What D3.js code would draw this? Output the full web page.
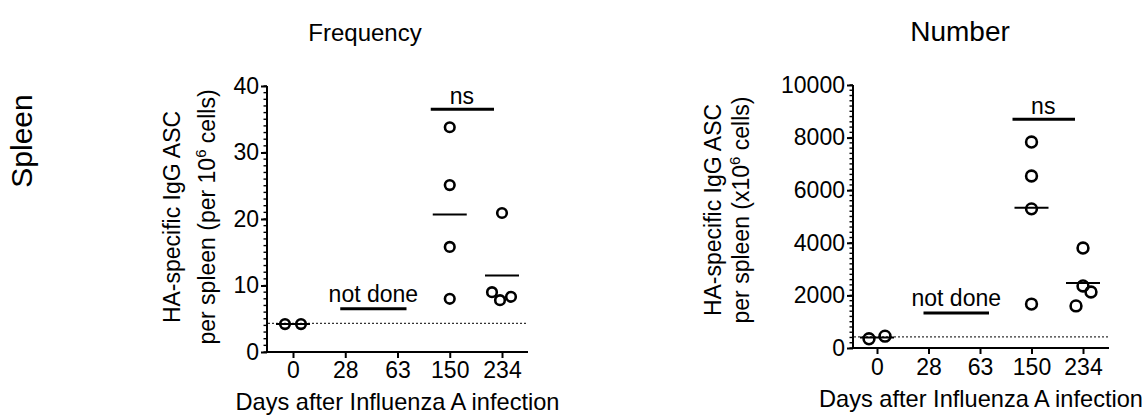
<!DOCTYPE html>
<html>
<head>
<meta charset="utf-8">
<script src="https://cdn.jsdelivr.net/npm/d3@7/dist/d3.min.js"></script>
<style>
  html, body { margin: 0; padding: 0; background: #fff; }
  svg { display: block; }
  text { font-family: "Liberation Sans", Arial, sans-serif; fill: #000; }
</style>
</head>
<body>
<svg id="chart" width="1148" height="415"></svg>
<script>
// ---------- DATA ----------
const days = ["0", "28", "63", "150", "234"];

// Frequency (per 10^6 cells)
const freqDay0   = [4.2, 4.2];
const freqDay150 = [33.8, 25.1, 15.8, 8.0];
const freqDay234 = [20.9, 9.0, 7.8, 8.3];
const freqLOD = 4.3;
const freqTicks = [0, 10, 20, 30, 40];

// Number (x10^6 cells)
const numDay0   = [350, 450];
const numDay150 = [7830, 6540, 5290, 1670];
const numDay234 = [3800, 2360, 2130, 1600];
const numLOD = 420;
const numTicks = [0, 2000, 4000, 6000, 8000, 10000];

// horizontal scatter offsets (px) for overlapping points
const jitterDay0 = [-8, 8];
const jitter150 = [0, 0, 0, 0];
const freqJitter234 = [0, -10, -2, 9];
const numJitter234 = [0, 0, 8, -7];

// ---------- DRAW ----------
const svg = d3.select("#chart");
const FONT = 23;

function panel(cfg) {
  const g = svg.append("g");
  const x = d3.scalePoint().domain(days).range(cfg.xRange);
  const y = d3.scaleLinear().domain(cfg.yDomain).range(cfg.yRange);
  const axisRight = cfg.xRange[1] + 26;

  // title
  g.append("text").attr("x", cfg.titleX).attr("y", 41)
    .attr("text-anchor", "middle").attr("font-size", cfg.titleSize).text(cfg.title);

  // minor ticks
  const minor = d3.range(cfg.yDomain[0], cfg.yDomain[1] + cfg.minorStep / 2, cfg.minorStep);
  g.append("g").selectAll("line").data(minor).join("line")
    .attr("x1", cfg.axisX - 3.5).attr("x2", cfg.axisX)
    .attr("y1", d => y(d)).attr("y2", d => y(d))
    .attr("stroke", "#000").attr("stroke-width", 1.4);

  // y axis
  const yAxis = d3.axisLeft(y).tickValues(cfg.yTicks).tickSize(6).tickPadding(2).tickFormat(d3.format("d"));
  const ya = g.append("g").attr("transform", `translate(${cfg.axisX},0)`).call(yAxis);
  ya.select(".domain").attr("stroke-width", 2).attr("d", `M0,${cfg.yRange[1]}V${cfg.yRange[0]}`);
  ya.selectAll(".tick line").attr("stroke-width", 2);
  ya.selectAll(".tick text").attr("font-size", FONT).attr("font-family", "Liberation Sans, Arial, sans-serif").attr("fill", "#000");

  // x axis
  const xAxis = d3.axisBottom(x).tickSize(6).tickPadding(4);
  const xa = g.append("g").attr("transform", `translate(0,${cfg.yRange[0]})`).call(xAxis);
  xa.select(".domain").attr("stroke-width", 2).attr("d", `M${cfg.axisX},0H${axisRight}`);
  xa.selectAll(".tick line").attr("stroke-width", 2);
  xa.selectAll(".tick text").attr("font-size", FONT).attr("font-family", "Liberation Sans, Arial, sans-serif").attr("fill", "#000")
    .attr("dy", null).attr("y", cfg.xTickY - cfg.yRange[0]);

  // x title
  g.append("text").attr("x", (cfg.axisX + axisRight) / 2).attr("y", cfg.xTitleY)
    .attr("text-anchor", "middle").attr("font-size", 23.6).text("Days after Influenza A infection");

  // y title (two lines)
  const yt = g.append("text").attr("text-anchor", "middle").attr("font-size", FONT)
    .attr("transform", `translate(${cfg.yTitleX},${cfg.yTitleY}) rotate(-90)`);
  yt.append("tspan").attr("x", 0).attr("y", 0).text("HA-specific IgG ASC");
  const l2 = yt.append("tspan").attr("x", 0).attr("y", cfg.yTitleGap);
  l2.append("tspan").text(cfg.line2a);
  l2.append("tspan").attr("font-size", 15).attr("dy", -9).text("6");
  l2.append("tspan").attr("dy", 9).text(" cells)");

  // dotted detection limit
  g.append("line").attr("x1", cfg.axisX + 1).attr("x2", axisRight)
    .attr("y1", y(cfg.lod)).attr("y2", y(cfg.lod))
    .attr("stroke", "#333").attr("stroke-width", 1.2).attr("stroke-dasharray", "2,2");

  // groups
  const groups = [
    { day: "0", vals: cfg.d0, jit: jitterDay0 },
    { day: "150", vals: cfg.d150, jit: jitter150 },
    { day: "234", vals: cfg.d234, jit: cfg.jit234 }
  ];
  groups.forEach(gr => {
    const m = d3.mean(gr.vals);
    g.append("line").attr("x1", x(gr.day) - 17).attr("x2", x(gr.day) + 17)
      .attr("y1", y(m)).attr("y2", y(m)).attr("stroke", "#000").attr("stroke-width", 2);
    g.append("g").selectAll("circle").data(gr.vals).join("circle")
      .attr("cx", (d, i) => x(gr.day) + gr.jit[i]).attr("cy", d => y(d))
      .attr("r", cfg.r).attr("fill", "none").attr("stroke", "#000").attr("stroke-width", 2.6);
  });

  // not done
  g.append("line").attr("x1", x("28") - 5).attr("x2", x("63") + 9)
    .attr("y1", y(cfg.notDoneY)).attr("y2", y(cfg.notDoneY)).attr("stroke", "#000").attr("stroke-width", 3);
  g.append("text").attr("x", (x("28") + x("63")) / 2 + 2).attr("y", y(cfg.notDoneY) - 7)
    .attr("text-anchor", "middle").attr("font-size", FONT).text("not done");

  // ns bracket
  g.append("line").attr("x1", x("150") - 19).attr("x2", x("234") - 8)
    .attr("y1", y(cfg.nsY)).attr("y2", y(cfg.nsY)).attr("stroke", "#000").attr("stroke-width", 3);
  g.append("text").attr("x", (x("150") + x("234")) / 2 - 14).attr("y", y(cfg.nsY) - 5)
    .attr("text-anchor", "middle").attr("font-size", FONT).text("ns");
}

panel({
  title: "Frequency", titleX: 365, titleSize: 24,
  xRange: [293, 502], yDomain: [0, 40], yRange: [352, 86], axisX: 267,
  yTicks: freqTicks, minorStep: 1,
  d0: freqDay0, d150: freqDay150, d234: freqDay234, jit234: freqJitter234,
  lod: freqLOD, notDoneY: 6.5, nsY: 36.5, r: 4.8,
  xTickY: 378, xTitleY: 410,
  yTitleX: 180, yTitleY: 217, yTitleGap: 35, line2a: "per spleen (per 10"
});

panel({
  title: "Number", titleX: 960, titleSize: 28,
  xRange: [877, 1083], yDomain: [0, 10000], yRange: [348, 85], axisX: 853,
  yTicks: numTicks, minorStep: 200,
  d0: numDay0, d150: numDay150, d234: numDay234, jit234: numJitter234,
  lod: numLOD, notDoneY: 1330, nsY: 8700, r: 5.4,
  xTickY: 375, xTitleY: 407,
  yTitleX: 721, yTitleY: 210, yTitleGap: 28, line2a: "per spleen (x10"
});

// row label
svg.append("text").attr("text-anchor", "middle").attr("font-size", 30)
  .attr("transform", "translate(32,141) rotate(-90)").text("Spleen");
</script>
</body>
</html>
